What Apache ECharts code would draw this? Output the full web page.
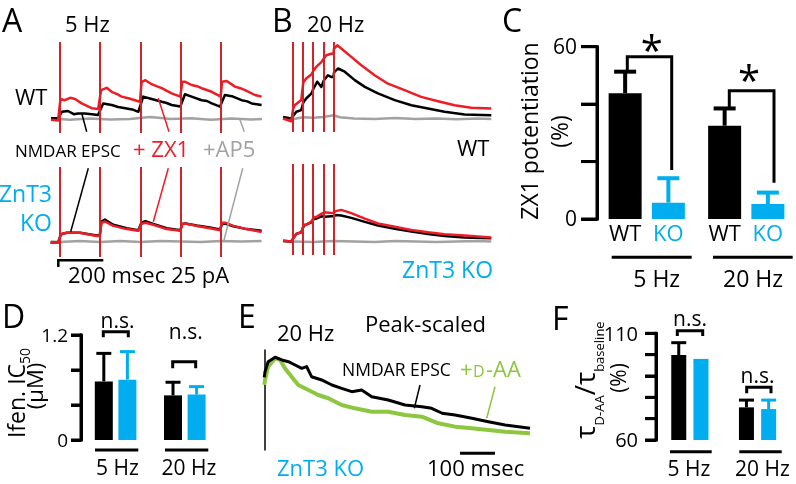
<!DOCTYPE html>
<html><head><meta charset="utf-8">
<script src="https://cdn.jsdelivr.net/npm/echarts@6/dist/echarts.min.js"></script>
<style>html,body{margin:0;padding:0;background:#fff}#c{width:796px;height:484px}</style>
</head><body><div id="c"></div>
<script>
// ---------- DATA ----------
const stimA = [0, 200, 400, 600, 800];
const aWT_ZX1 = [[-43,-2],[-8,-4],[0,-4],[4,50],[26,47],[52,53],[76,50],[109,39],[135,33],[159,27],[191,25],[199,25],
  [205,72],[233,78],[258,68],[285,62],[307,56],[340,52],[373,47],[398,43],
  [406,92],[425,97],[456,87],[480,82],[506,77],[555,64],[598,56],
  [608,93],[623,93],[654,85],[680,82],[704,77],[754,68],[798,56],
  [805,93],[828,95],[869,81],[895,77],[919,72],[968,60],[1001,56]];
const aWT_ctrl = [[-43,2],[-8,2],[0,2],[11,18],[41,20],[70,12],[91,14],[125,14],[160,12],[190,10],[199,9],
  [216,39],[258,35],[290,30],[325,27],[360,24],[390,18],[399,17],
  [414,56],[456,50],[506,43],[530,40],[555,35],[598,31],
  [621,62],[654,56],[704,47],[730,45],[754,39],[795,31],
  [819,60],[853,57],[902,47],[930,44],[952,39],[1001,35]];
const aWT_AP5 = [[-43,0],[0,0],[50,-2],[150,1],[250,-1],[350,0],[420,4],[450,5],[550,0],[650,2],[750,-2],[850,1],[950,-1],[1003,0]];
const aKO_ZX1 = [[-45,-3],[-8,-3],[0,-3],[6,18],[35,22],[101,22],[183,14],[199,14],
  [207,47],[224,50],[266,39],[332,31],[390,27],[399,27],
  [405,44],[425,47],[464,42],[530,31],[598,27],
  [608,44],[623,45],[679,39],[745,33],[795,28],
  [805,47],[820,47],[861,39],[927,31],[1001,24]];
const aKO_ctrl = [[-45,-3],[-8,-3],[0,-3],[6,18],[35,22],[101,22],[183,15],[199,15],
  [207,50],[224,55],[266,42],[332,33],[390,28],[399,28],
  [405,47],[425,51],[464,44],[530,33],[598,28],
  [608,44],[623,45],[679,40],[745,35],[795,30],
  [805,44],[820,45],[861,38],[927,31],[1001,27]];
const aKO_AP5 = [[-45,0],[0,-1],[100,1],[200,-1],[300,1],[400,-1],[500,1],[600,0],[700,-1],[800,1],[900,0],[1001,1]];

const stimB = [0, 50, 100, 150, 200];
const bWT_ZX1 = [[-47,0],[-7,-7],[0,-7],[3,25],[10,33],[42,46],[49,46],
  [52,90],[66,100],[91,110],[99,110],[102,120],[115,129],[140,141],[149,141],
  [152,150],[164,158],[188,162],[199,162],[202,175],[218,183],[237,175],[286,154],
  [335,133],[400,108],[465,87],[546,71],[627,54],[709,43],[790,33],[871,27],[969,25]];
const bWT_ctrl = [[-47,4],[-7,0],[0,0],[18,17],[42,21],[49,21],[52,40],[66,50],[91,62],[99,62],
  [102,75],[120,92],[140,79],[149,82],[152,95],[172,108],[188,104],[199,104],[202,115],[221,125],
  [254,117],[303,96],[352,79],[416,63],[498,46],[579,33],[660,25],[741,17],[839,10],[969,8]];
const bWT_AP5 = [[-47,0],[0,-2],[50,3],[100,2],[150,4],[200,8],[230,3],[300,0],[400,-1],[500,1],[600,-1],[700,0],[800,-2],[900,0],[969,-1]];
const bKO_ZX1 = [[-47,2],[-7,0],[0,0],[18,19],[42,23],[49,23],[55,42],[66,42],[91,50],[99,50],
  [105,61],[115,61],[140,69],[149,69],[155,73],[164,73],[188,71],[199,71],[210,76],[237,79],
  [286,71],[352,57],[416,45],[498,37],[579,29],[660,23],[741,18],[839,15],[969,10]];
const bKO_ctrl = [[-47,2],[-7,0],[0,0],[18,19],[42,23],[49,23],[55,40],[66,42],[91,48],[99,48],
  [105,57],[115,57],[140,63],[149,63],[155,62],[164,61],[188,63],[199,63],[210,66],[237,65],
  [286,59],[352,49],[416,40],[498,32],[579,25],[660,19],[741,14],[839,10],[969,8]];
const bKO_AP5 = [[-47,0],[0,0],[100,-1],[200,1],[300,0],[400,-1],[500,1],[600,0],[700,-1],[800,0],[900,1],[969,0]];

const groups = ['5 Hz', '20 Hz'];
const cWT = [43.8, 32.5], cWTsem = [7.5, 6.0];
const cKO = [5.7, 5.2],  cKOsem = [8.5, 4.0];
const cTicks = [0, 20, 40, 60], cTickLabels = ['0', '60'];
const dWT = [0.67, 0.51], dWTsem = [0.32, 0.15];
const dKO = [0.69, 0.52], dKOsem = [0.32, 0.09];
const dTicks = [0, 0.4, 0.8, 1.2], dTickLabels = ['0', '1.2'];
const eCtrl = [[0,0.78],[2,0.842],[11,0.949],[31,0.997],[50,0.968],[69,0.949],[88,0.914],[107,0.878],[121,0.896],
  [135,0.788],[164,0.753],[193,0.699],[221,0.663],[250,0.627],[278,0.645],[307,0.573],[354,0.538],[402,0.484],
  [450,0.466],[478,0.448],[508,0.395],[545,0.376],[593,0.341],[640,0.304],[688,0.269],[759,0.233]];
const eDAA = [[0,0.70],[2,0.753],[11,0.896],[31,0.986],[45,0.968],[59,0.878],[78,0.788],[97,0.699],[126,0.645],
  [154,0.591],[183,0.556],[221,0.484],[259,0.448],[307,0.412],[354,0.412],[402,0.376],[450,0.358],[497,0.287],
  [545,0.251],[593,0.233],[640,0.215],[688,0.197],[759,0.180]];
const fWT = [99.8, 75.3], fWTsem = [5.8, 3.4];
const fKO = [97.0, 74.5], fKOsem = [0.3, 4.2];
const fTicks = [60, 70, 80, 90, 100, 110], fTickLabels = ['60', '110'];

// ---------- LAYOUT / STYLE ----------
const FONT = '"Open Sans", "Noto Sans", sans-serif';
const RED = '#ee1c25', STIM = '#d2232a', GRAY = '#a2a2a2', CYAN = '#00aeef', GREEN = '#8dc63f', BLACK = '#000';
const GRIDS = [
  {left: 51, top: 42, width: 211, height: 91},
  {left: 51, top: 167, width: 211, height: 90},
  {left: 283, top: 42, width: 208.5, height: 90},
  {left: 283, top: 164, width: 208.5, height: 91},
  {left: 597, top: 46.7, width: 205.4, height: 172.3},
  {left: 81, top: 335, width: 138.4, height: 105},
  {left: 264.3, top: 350, width: 265.7, height: 100},
  {left: 656, top: 333.3, width: 135.4, height: 106.7},
  // axis-only grids sharing the left edge / value range of the three bar panels
  {left: 597, top: 46.7, width: 10, height: 172.3},
  {left: 81, top: 335, width: 10, height: 105},
  {left: 656, top: 333.3, width: 10, height: 106.7}
];

const chart = echarts.init(document.getElementById('c'), null, {renderer: 'canvas', width: 796, height: 484});

function trace(data, idx, color, width, z, stims) {
  const s = {type: 'line', xAxisIndex: idx, yAxisIndex: idx, data, showSymbol: false, symbol: 'none',
    lineStyle: {color, width, join: 'round'}, itemStyle: {color}, z, silent: true, animation: false};
  if (stims) s.markLine = {silent: true, symbol: 'none', animation: false, label: {show: false},
    lineStyle: {color: STIM, width: 2, type: 'solid'}, data: stims.map(t => ({xAxis: t}))};
  return s;
}
function bars(idx, data, color, W, gap, lbl) {
  const s = {type: 'bar', xAxisIndex: idx, yAxisIndex: idx, data, barWidth: W, barGap: gap + '%',
    itemStyle: {color}, silent: true, animation: false, z: 2};
  if (lbl) s.label = {show: true, position: 'bottom', distance: 5, formatter: lbl, color, fontSize: 22, fontFamily: FONT};
  return s;
}
function errs(idx, mean, sem, color, W, gap, side, cap, lw) {
  const off = side * (W + W * gap / 100) / 2;
  return {type: 'custom', xAxisIndex: idx, yAxisIndex: idx, silent: true, animation: false, z: 3,
    data: mean.map((m, k) => [k, m, m + sem[k]]),
    renderItem: (params, api) => {
      const p0 = api.coord([api.value(0), api.value(1)]);
      const p1 = api.coord([api.value(0), api.value(2)]);
      const x = p0[0] + off;
      return {type: 'group', children: [
        {type: 'line', shape: {x1: x, y1: p0[1], x2: x, y2: p1[1]}, style: {stroke: color, lineWidth: lw}},
        {type: 'line', shape: {x1: x - cap / 2, y1: p1[1], x2: x + cap / 2, y2: p1[1]}, style: {stroke: color, lineWidth: lw}}
      ]};
    }};
}
function valAxis(idx, min, max) { return {type: 'value', gridIndex: idx, min, max, show: false}; }
function lineAxis(idx, min, max, interval, len) {
  return {type: 'value', gridIndex: idx, min, max, interval,
    axisLine: {show: true, onZero: false, lineStyle: {color: BLACK, width: 3}},
    axisTick: {show: true, length: len, lineStyle: {color: BLACK, width: 3}},
    axisLabel: {show: false}, splitLine: {show: false}};
}
function T(x, y, text, size, color, align, extra) {
  return Object.assign({type: 'text', x, y, z: 100, silent: true,
    style: {text, fill: color || BLACK, fontSize: size, fontFamily: FONT, align: align || 'left', verticalAlign: 'middle'}}, extra || {});
}
function L(points, w, color, z) {
  return {type: 'polyline', z: z || 90, silent: true, shape: {points},
    style: {stroke: color || BLACK, lineWidth: w, fill: null, lineJoin: 'miter', lineCap: 'butt'}};
}
// y-axis line, outward ticks and end labels of a bar panel, mapped onto the grid's value range
function axisPoly(gi, min, max, ticks, len, lw, lbls, margin, fs) {
  const g = GRIDS[gi];
  const yOf = v => g.top + g.height * (max - v) / (max - min);
  const out = ticks.map(v => L([[g.left - len, yOf(v)], [g.left, yOf(v)]], lw, BLACK, 200));
  out.push(L([[g.left, yOf(max) - lw / 2], [g.left, yOf(min) + lw / 2]], lw, BLACK, 200));
  out.push(T(g.left - margin, yOf(min) + 1.5, lbls[0], fs, BLACK, 'right'));
  out.push(T(g.left - margin, yOf(max) + 1.5, lbls[1], fs, BLACK, 'right'));
  return out;
}

const labels = [
    T(2, 23, 'A', 32), T(272, 23, 'B', 32), T(502, 23, 'C', 32),
    T(2, 319, 'D', 32), T(238, 319, 'E', 32), T(552, 321, 'F', 32),
    T(65, 26, '5 Hz', 22), T(15, 99, 'WT', 22),
    T(15, 152, 'NMDAR EPSC', 17), T(133, 151, '+ ZX1', 22, RED), T(203, 151, '+AP5', 22, GRAY),
    T(52, 195.5, 'ZnT3', 23, CYAN, 'right'), T(52, 224, 'KO', 23, CYAN, 'right'),
    T(68, 277, '200 msec 25 pA', 22),
    L([[58.3, 267], [58.3, 260.3], [103.3, 260.3]], 2.5),
    L([[81.7, 113.3], [86.7, 131.7]], 1.5), L([[158.3, 98.3], [169, 131.7]], 1.5, RED), L([[240, 120], [244.3, 131.7]], 1.5, GRAY),
    L([[88.3, 168.3], [70.7, 231.7]], 1.5), L([[168.3, 168.3], [153.3, 221.7]], 1.5, RED), L([[242.7, 168.3], [224, 240]], 1.5, GRAY),
    T(307, 26, '20 Hz', 22), T(457, 150, 'WT', 22), T(402, 271.5, 'ZnT3 KO', 23, CYAN),
    T(531.5, 131, 'ZX1 potentiation', 23, BLACK, 'center', {rotation: Math.PI / 2}),
    T(561, 131.5, '(%)', 23, BLACK, 'center', {rotation: Math.PI / 2}),
    L([[627.3, 71.7], [627.3, 56.7], [671.7, 56.7], [671.7, 170]], 3),
    L([[729.3, 108.3], [729.3, 90.7], [774, 90.7], [774, 182.7]], 3),
    T(651.7, 54, '*', 40, BLACK, 'center'), T(749, 84, '*', 40, BLACK, 'center'),
    L([[611.7, 257.3], [691.7, 257.3]], 3), L([[713, 257.3], [792.7, 257.3]], 3),
    T(656.7, 280, '5 Hz', 23, BLACK, 'center'), T(753, 280, '20 Hz', 23, BLACK, 'center'),
    {type: 'text', x: 18, y: 393, rotation: Math.PI / 2, z: 100, silent: true,
      style: {text: '{a|Ifen. IC}{b|50}', align: 'center', verticalAlign: 'middle', fill: BLACK,
        rich: {a: {fontSize: 23, fontFamily: FONT, lineHeight: 30, verticalAlign: 'middle'},
               b: {fontSize: 14, fontFamily: FONT, lineHeight: 14, verticalAlign: 'bottom'}}}},
    T(37, 386, '(μM)', 22, BLACK, 'center', {rotation: Math.PI / 2}),
    L([[103.3, 337.3], [103.3, 331.7], [128.3, 331.7], [128.3, 337.3]], 3),
    L([[172.7, 368.3], [172.7, 361.7], [195.7, 361.7], [195.7, 368.3]], 3),
    T(117.5, 322, 'n.s.', 21, BLACK, 'center'), T(185.8, 333, 'n.s.', 21, BLACK, 'center'),
    L([[95, 450], [138.3, 450]], 3), L([[165, 450], [208.3, 450]], 3),
    T(117.5, 469.5, '5 Hz', 21, BLACK, 'center'), T(189, 469.5, '20 Hz', 21, BLACK, 'center'),
    T(277, 335, '20 Hz', 22), T(365, 325.5, 'Peak-scaled', 22),
    T(342, 371, 'NMDAR EPSC', 17.5),
    T(460, 371, '+', 22, GREEN), T(473, 372.7, 'D', 16, GREEN), T(486, 371, '-AA', 22, GREEN),
    L([[420, 385], [414.3, 408.3]], 1.5), L([[495, 386.7], [486.7, 418.3]], 1.5, GREEN),
    T(277, 470, 'ZnT3 KO', 22, CYAN), T(427, 470, '100 msec', 22),
    L([[460, 453.3], [495, 453.3]], 3),
    {type: 'text', x: 587, y: 380, rotation: Math.PI / 2, z: 100, silent: true,
      style: {text: '{t|τ}{s|D-AA}{t|/τ}{s|baseline}', align: 'center', verticalAlign: 'middle', fill: BLACK,
        rich: {t: {fontSize: 28, fontFamily: FONT, lineHeight: 40, verticalAlign: 'middle'},
               s: {fontSize: 13, fontFamily: FONT, lineHeight: 13, verticalAlign: 'bottom'}}}},
    T(620, 378, '(%)', 21, BLACK, 'center', {rotation: Math.PI / 2}),
    L([[677.3, 336], [677.3, 330.7], [702.7, 330.7], [702.7, 336]], 3),
    L([[746.7, 393.3], [746.7, 387.3], [771, 387.3], [771, 393.3]], 3),
    T(690, 320, 'n.s.', 21, BLACK, 'center'), T(757.5, 377, 'n.s.', 21, BLACK, 'center'),
    L([[670, 451.7], [711.7, 451.7]], 3), L([[739.3, 451.7], [781.7, 451.7]], 3),
    T(689, 470, '5 Hz', 21, BLACK, 'center'), T(762.5, 470, '20 Hz', 21, BLACK, 'center')
];
const axes = [].concat(
  axisPoly(4, 0, 60, cTicks, 16, 3, cTickLabels, 20, 21),
  axisPoly(5, 0, 1.2, dTicks, 10, 3, dTickLabels, 13, 19),
  axisPoly(7, 60, 110, fTicks, 11, 3, fTickLabels, 18, 20));

const option = {
  animation: false,
  backgroundColor: '#fff',
  grid: GRIDS,
  xAxis: [
    valAxis(0, -43, 1003), valAxis(1, -43, 1003), valAxis(2, -47, 970), valAxis(3, -47, 970),
    {type: 'category', gridIndex: 4, data: groups, show: false},
    {type: 'category', gridIndex: 5, data: groups, show: false},
    valAxis(6, 0, 759),
    {type: 'category', gridIndex: 7, data: groups, show: false},
    valAxis(8, 0, 1), valAxis(9, 0, 1), valAxis(10, 0, 1)
  ],
  yAxis: [
    valAxis(0, -35, 192.5), valAxis(1, -38.75, 186.25), valAxis(2, -33.75, 191.25), valAxis(3, -33.75, 193.75),
    valAxis(4, 0, 60), valAxis(5, 0, 1.2),
    {type: 'value', gridIndex: 6, min: 0, max: 1.075, axisLine: {show: true, onZero: false, lineStyle: {color: BLACK, width: 1.5}},
      axisTick: {show: false}, axisLabel: {show: false}, splitLine: {show: false}},
    valAxis(7, 60, 110),
    lineAxis(8, 0, 60, 20, 16), lineAxis(9, 0, 1.2, 0.4, 10), lineAxis(10, 60, 110, 10, 11)
  ],
  series: [
    trace(aWT_AP5, 0, GRAY, 2.5, 1), trace(aWT_ctrl, 0, BLACK, 2.5, 2), trace(aWT_ZX1, 0, RED, 2.5, 3, stimA),
    trace(aKO_AP5, 1, GRAY, 2.5, 1), trace(aKO_ctrl, 1, BLACK, 2.5, 2), trace(aKO_ZX1, 1, RED, 2.5, 3, stimA),
    trace(bWT_AP5, 2, GRAY, 2.5, 1), trace(bWT_ctrl, 2, BLACK, 2.5, 2), trace(bWT_ZX1, 2, RED, 2.5, 3, stimB),
    trace(bKO_AP5, 3, GRAY, 2.5, 1), trace(bKO_ctrl, 3, BLACK, 2.5, 2), trace(bKO_ZX1, 3, RED, 2.5, 3, stimB),
    bars(4, cWT, BLACK, 33, 31, 'WT'), bars(4, cKO, CYAN, 33, 31, 'KO'),
    errs(4, cWT, cWTsem, BLACK, 33, 31, -1, 22, 4), errs(4, cKO, cKOsem, CYAN, 33, 31, 1, 22, 4),
    bars(5, dWT, BLACK, 18, 31), bars(5, dKO, CYAN, 18, 31),
    errs(5, dWT, dWTsem, BLACK, 18, 31, -1, 15, 3), errs(5, dKO, dKOsem, CYAN, 18, 31, 1, 15, 3),
    trace(eDAA, 6, GREEN, 4, 1), trace(eCtrl, 6, BLACK, 3, 2),
    bars(7, fWT, BLACK, 15, 48), bars(7, fKO, CYAN, 15, 48),
    errs(7, fWT, fWTsem, BLACK, 15, 48, -1, 15, 3), errs(7, fKO, fKOsem, CYAN, 15, 48, 1, 15, 3)
  ],
  graphic: axes.concat(labels)
};
chart.setOption(option);
</script></body></html>
